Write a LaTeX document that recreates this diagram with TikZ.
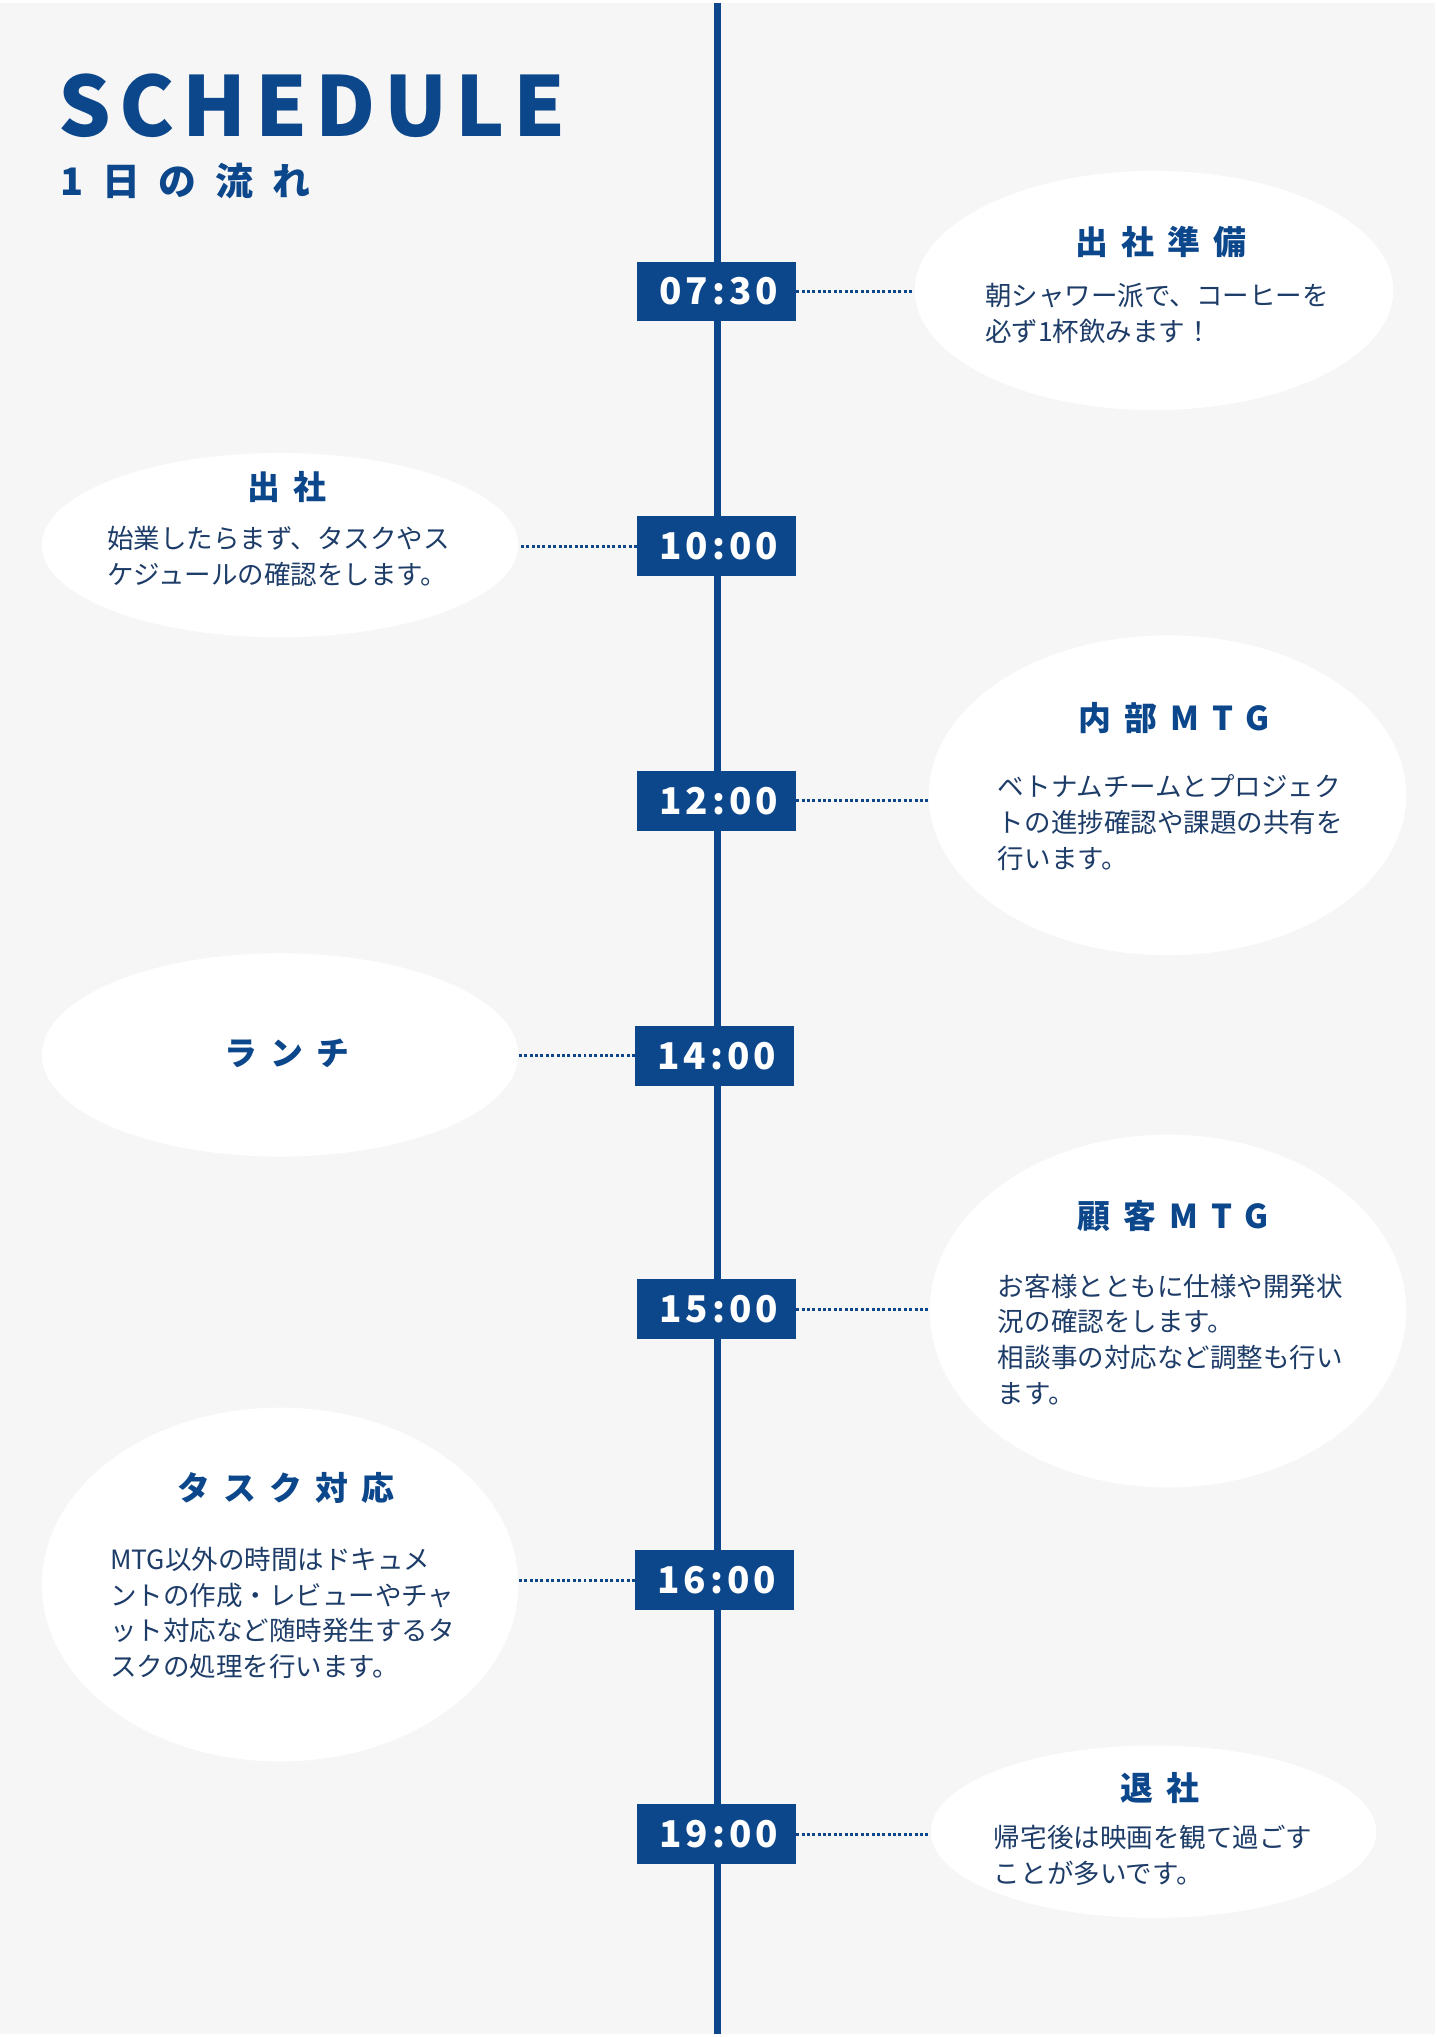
\documentclass[tikz,border=0pt]{standalone}
\usepackage{fontspec}
\setmainfont{Noto Sans CJK JP}
\newfontfamily\headfont[LetterSpace=10]{Noto Sans CJK JP}
\newfontfamily\subfont[LetterSpace=50]{Noto Sans CJK JP}
\newfontfamily\ttlfont[LetterSpace=40]{Noto Sans CJK JP}
\newfontfamily\timefont[LetterSpace=11]{Noto Sans CJK JP}
\usetikzlibrary{positioning}
\usetikzlibrary{shapes.geometric}
\definecolor{navy}{HTML}{0C478B}
\definecolor{ink}{HTML}{1D3C68}
\definecolor{bg}{HTML}{F6F6F6}
\tikzstyle{timebox} = [rectangle, fill=navy, text=white, minimum width=79.5pt, minimum height=30pt, inner sep=0pt, font=\timefont\bfseries\fontsize{18.5}{22}\selectfont]
\tikzstyle{bubble} = [ellipse, fill=white, inner sep=0pt]
\tikzstyle{ttl} = [anchor=base, inner sep=0pt, text=navy, font=\ttlfont\bfseries\fontsize{16.5}{20}\selectfont]
\tikzstyle{txt} = [anchor=base west, align=left, inner sep=0pt, text=ink, font=\fontsize{13.3}{18}\selectfont]
\tikzstyle{dots} = [navy, line width=1.5pt, dash pattern=on 1.5pt off 1.2pt]

\begin{document}
\begin{tikzpicture}[x=0.5pt,y=-0.5pt]
	%Background
	\fill[bg] (0,0) rectangle (1440,2037);
	
	%Coordinates
	\coordinate (lineTop) at (720,0);
	\coordinate (lineBot) at (720,2037);
	\draw[navy, line width=3.5pt] (lineTop) -- (lineBot);
	
	%Heading
	\node[anchor=base west, inner sep=0pt, text=navy, font=\headfont\bfseries\fontsize{41.5}{48}\selectfont] (heading) at (58,133) {SCHEDULE};
	\node[anchor=base west, inner sep=0pt, text=navy, font=\subfont\bfseries\fontsize{19}{22}\selectfont] (subheading) at (60,193) {1日の流れ};
	
	%Bubbles
	\node[bubble, minimum width=240pt, minimum height=120pt] (prep) at (1158,288) {};
	\node[bubble, minimum width=239pt, minimum height=92.5pt] (arrive) at (281,543.5) {};
	\node[bubble, minimum width=239.5pt, minimum height=160.5pt] (inmtg) at (1171.5,794.5) {};
	\node[bubble, minimum width=239pt, minimum height=102pt] (lunch) at (281,1055) {};
	\node[bubble, minimum width=239pt, minimum height=177pt] (clmtg) at (1172,1312) {};
	\node[bubble, minimum width=239pt, minimum height=177.5pt] (tasks) at (281,1586.5) {};
	\node[bubble, minimum width=223.5pt, minimum height=86.5pt] (leave) at (1157.5,1834.5) {};
	
	%Time boxes
	\node[timebox] (t0730) at (719,289) {\hspace{2pt}07:30};
	\node[timebox] (t1000) at (719,544.5) {\hspace{2pt}10:00};
	\node[timebox] (t1200) at (719,800) {\hspace{2pt}12:00};
	\node[timebox] (t1400) at (717,1056) {\hspace{2pt}14:00};
	\node[timebox] (t1500) at (719,1310) {\hspace{2pt}15:00};
	\node[timebox] (t1600) at (717,1582) {\hspace{2pt}16:00};
	\node[timebox] (t1900) at (719,1837) {\hspace{2pt}19:00};
	
	%Dotted links
	\draw[dots] (t0730.east) -- (t0730.east -| prep.west);
	\draw[dots] (t1000.west) -- (t1000.west -| arrive.east);
	\draw[dots] (t1200.east) -- (t1200.east -| inmtg.west);
	\draw[dots] (t1400.west) -- (t1400.west -| lunch.east);
	\draw[dots] (t1500.east) -- (t1500.east -| clmtg.west);
	\draw[dots] (t1600.west) -- (t1600.west -| tasks.east);
	\draw[dots] (t1900.east) -- (t1900.east -| leave.west);
	
	%Titles
	\node[ttl] (prepTitle) at (1165,252) {出社準備};
	\node[ttl] (arriveTitle) at (288,498) {出社};
	\node[ttl] (inmtgTitle) at (1178,730) {内部MTG};
	\node[ttl] (lunchTitle) at (288,1066) {ランチ};
	\node[ttl] (clmtgTitle) at (1177,1229) {顧客MTG};
	\node[ttl] (tasksTitle) at (287,1502) {タスク対応};
	\node[ttl] (leaveTitle) at (1164,1803) {退社};
	
	%Texts (base = last line)
	\node[txt] (prepText) at (988,339) {朝シャワー派で、コーヒーを\\必ず1杯飲みます！};
	\node[txt] (arriveText) at (107,583) {始業したらまず、タスクやス\\ケジュールの確認をします。};
	\node[txt] (inmtgText) at (1001,868) {ベトナムチームとプロジェク\\トの進捗確認や課題の共有を\\行います。};
	\node[txt] (clmtgText) at (1001,1405) {お客様とともに仕様や開発状\\況の確認をします。\\相談事の対応など調整も行い\\ます。};
	\node[txt] (tasksText) at (110,1679) {MTG以外の時間はドキュメ\\ントの作成・レビューやチャ\\ット対応など随時発生するタ\\スクの処理を行います。};
	\node[txt] (leaveText) at (997,1886) {帰宅後は映画を観て過ごす\\ことが多いです。};
\end{tikzpicture}
\end{document}
